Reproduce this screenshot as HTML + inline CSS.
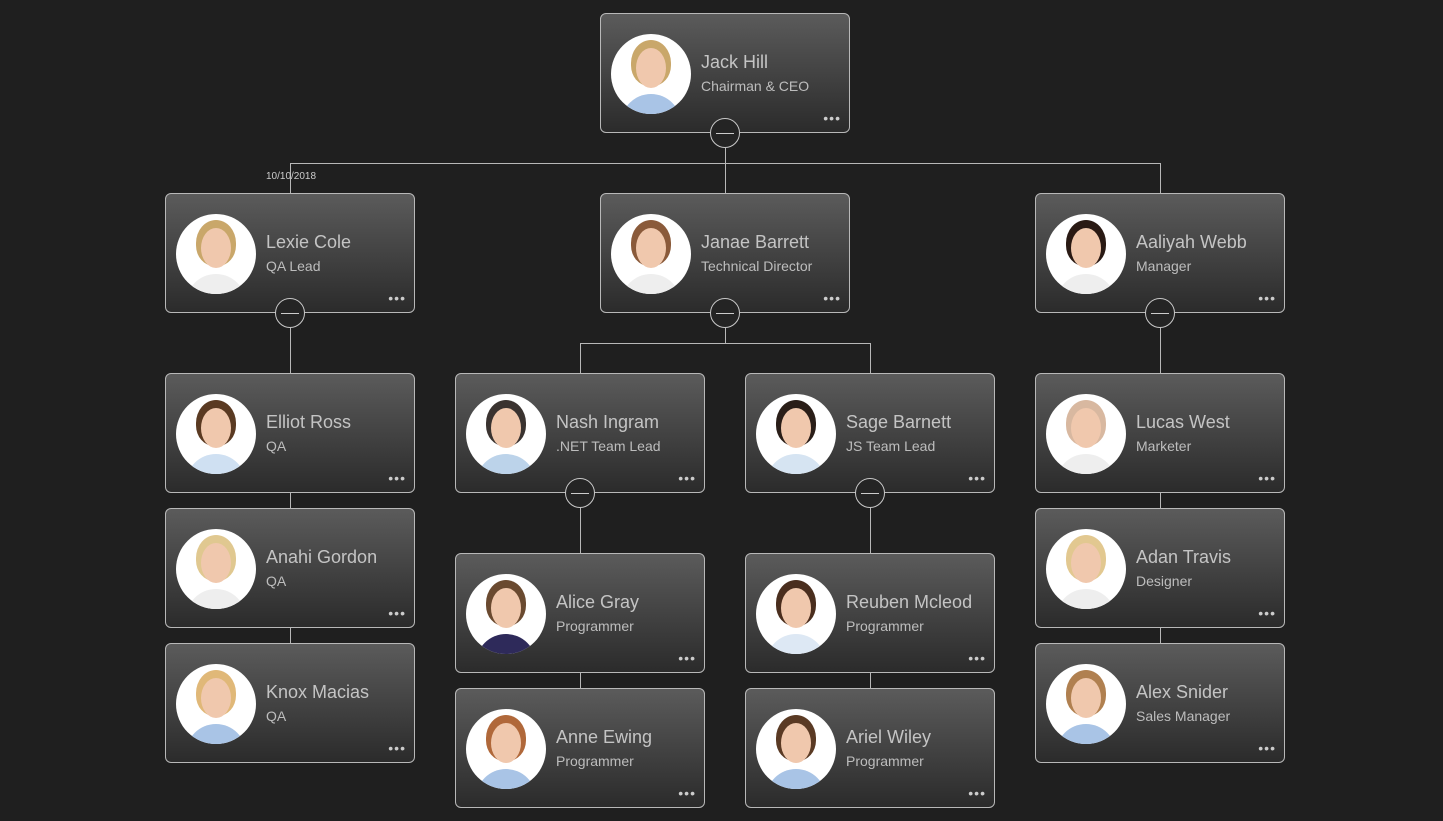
<!DOCTYPE html>
<html><head><style>
body{margin:0;width:1443px;height:821px;background:#1f1f1f;position:relative;overflow:hidden;font-family:"Liberation Sans",sans-serif}
.n{position:absolute;width:248px;height:118px;border:1px solid #b8b8b8;border-radius:6px;background:linear-gradient(#5b5b5b,#2b2b2b)}
.av{position:absolute;left:10px;top:20px;width:80px;height:80px;border-radius:50%;background:#fff;overflow:hidden}
.av .h{position:absolute;left:20px;top:6px;width:40px;height:46px;border-radius:50% 50% 45% 45%;background:#c9a76a}
.av .f{position:absolute;left:25px;top:14px;width:30px;height:40px;border-radius:50%;background:#f0c8ad}
.av .s{position:absolute;left:10px;top:60px;width:60px;height:30px;border-radius:30px 30px 0 0;background:#a9c4e6}
.nm{position:absolute;left:100px;top:38px;font-size:18px;color:#c4c4c4}
.tt{position:absolute;left:100px;top:64px;font-size:14px;color:#bdbdbd}
.d{position:absolute;right:8px;bottom:10px;font-size:14px;letter-spacing:1px;color:#ccc;line-height:8px}
.l{position:absolute;background:#b8b8b8}
.b{position:absolute;width:28px;height:28px;border:1px solid #c8c8c8;border-radius:50%;background:#242424}
.b:after{content:"";position:absolute;left:5px;right:5px;top:14px;height:1px;background:#ccc}
</style></head><body>
<div class="l" style="left:725px;top:148px;width:1px;height:45px"></div>
<div class="l" style="left:290px;top:163px;width:871px;height:1px"></div>
<div class="l" style="left:290px;top:163px;width:1px;height:30px"></div>
<div class="l" style="left:1160px;top:163px;width:1px;height:30px"></div>
<div class="l" style="left:290px;top:328px;width:1px;height:45px"></div>
<div class="l" style="left:1160px;top:328px;width:1px;height:45px"></div>
<div class="l" style="left:725px;top:328px;width:1px;height:15px"></div>
<div class="l" style="left:580px;top:343px;width:291px;height:1px"></div>
<div class="l" style="left:580px;top:343px;width:1px;height:30px"></div>
<div class="l" style="left:870px;top:343px;width:1px;height:30px"></div>
<div class="l" style="left:290px;top:493px;width:1px;height:150px"></div>
<div class="l" style="left:1160px;top:493px;width:1px;height:150px"></div>
<div class="l" style="left:580px;top:508px;width:1px;height:180px"></div>
<div class="l" style="left:870px;top:508px;width:1px;height:180px"></div>
<div style="position:absolute;left:266px;top:171px;font-size:10px;color:#ccc">10/10/2018</div>

<div class="n" style="left:600px;top:13px"><div class="av"><div class="h"></div><div class="f"></div><div class="s"></div></div><div class="nm">Jack Hill</div><div class="tt">Chairman &amp; CEO</div><div class="d">•••</div></div>
<div class="n" style="left:165px;top:193px"><div class="av"><div class="h"></div><div class="f"></div><div class="s" style="background:#eee"></div></div><div class="nm">Lexie Cole</div><div class="tt">QA Lead</div><div class="d">•••</div></div>
<div class="n" style="left:600px;top:193px"><div class="av"><div class="h" style="background:#8a5a3a"></div><div class="f"></div><div class="s" style="background:#eee"></div></div><div class="nm">Janae Barrett</div><div class="tt">Technical Director</div><div class="d">•••</div></div>
<div class="n" style="left:1035px;top:193px"><div class="av"><div class="h" style="background:#2a1a14"></div><div class="f"></div><div class="s" style="background:#eee"></div></div><div class="nm">Aaliyah Webb</div><div class="tt">Manager</div><div class="d">•••</div></div>
<div class="n" style="left:165px;top:373px"><div class="av"><div class="h" style="background:#5a3a22"></div><div class="f"></div><div class="s" style="background:#cfe0f2"></div></div><div class="nm">Elliot Ross</div><div class="tt">QA</div><div class="d">•••</div></div>
<div class="n" style="left:455px;top:373px"><div class="av"><div class="h" style="background:#3a3330"></div><div class="f"></div><div class="s" style="background:#bcd3ea"></div></div><div class="nm">Nash Ingram</div><div class="tt">.NET Team Lead</div><div class="d">•••</div></div>
<div class="n" style="left:745px;top:373px"><div class="av"><div class="h" style="background:#2a1e18"></div><div class="f"></div><div class="s" style="background:#d6e4f2"></div></div><div class="nm">Sage Barnett</div><div class="tt">JS Team Lead</div><div class="d">•••</div></div>
<div class="n" style="left:1035px;top:373px"><div class="av"><div class="h" style="background:#d8b8a0"></div><div class="f"></div><div class="s" style="background:#eee"></div></div><div class="nm">Lucas West</div><div class="tt">Marketer</div><div class="d">•••</div></div>
<div class="n" style="left:165px;top:508px"><div class="av"><div class="h" style="background:#e0c890"></div><div class="f"></div><div class="s" style="background:#eee"></div></div><div class="nm">Anahi Gordon</div><div class="tt">QA</div><div class="d">•••</div></div>
<div class="n" style="left:1035px;top:508px"><div class="av"><div class="h" style="background:#e2c890"></div><div class="f"></div><div class="s" style="background:#eee"></div></div><div class="nm">Adan Travis</div><div class="tt">Designer</div><div class="d">•••</div></div>
<div class="n" style="left:455px;top:553px"><div class="av"><div class="h" style="background:#6a4a30"></div><div class="f"></div><div class="s" style="background:#2e2a5a"></div></div><div class="nm">Alice Gray</div><div class="tt">Programmer</div><div class="d">•••</div></div>
<div class="n" style="left:745px;top:553px"><div class="av"><div class="h" style="background:#4a2e1e"></div><div class="f"></div><div class="s" style="background:#dde8f4"></div></div><div class="nm">Reuben Mcleod</div><div class="tt">Programmer</div><div class="d">•••</div></div>
<div class="n" style="left:165px;top:643px"><div class="av"><div class="h" style="background:#e0b878"></div><div class="f"></div><div class="s"></div></div><div class="nm">Knox Macias</div><div class="tt">QA</div><div class="d">•••</div></div>
<div class="n" style="left:1035px;top:643px"><div class="av"><div class="h" style="background:#b08050"></div><div class="f"></div><div class="s"></div></div><div class="nm">Alex Snider</div><div class="tt">Sales Manager</div><div class="d">•••</div></div>
<div class="n" style="left:455px;top:688px"><div class="av"><div class="h" style="background:#b0683a"></div><div class="f"></div><div class="s"></div></div><div class="nm">Anne Ewing</div><div class="tt">Programmer</div><div class="d">•••</div></div>
<div class="n" style="left:745px;top:688px"><div class="av"><div class="h" style="background:#5a3a24"></div><div class="f"></div><div class="s"></div></div><div class="nm">Ariel Wiley</div><div class="tt">Programmer</div><div class="d">•••</div></div>

<div class="b" style="left:710px;top:118px"></div>
<div class="b" style="left:275px;top:298px"></div>
<div class="b" style="left:710px;top:298px"></div>
<div class="b" style="left:1145px;top:298px"></div>
<div class="b" style="left:565px;top:478px"></div>
<div class="b" style="left:855px;top:478px"></div>
</body></html>
